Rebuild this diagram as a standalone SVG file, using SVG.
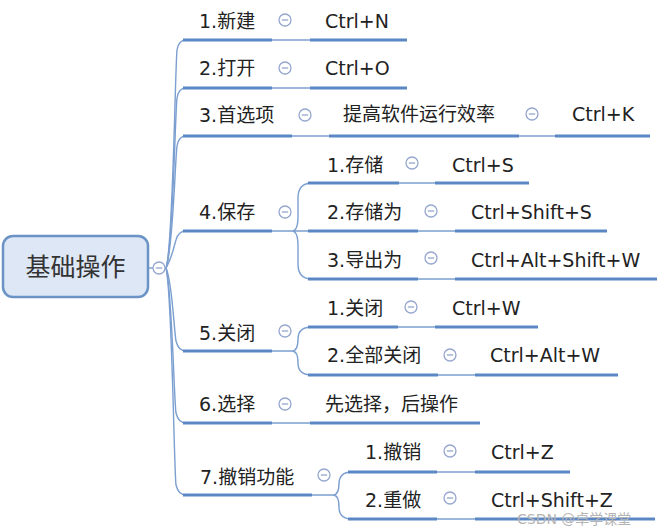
<svg xmlns="http://www.w3.org/2000/svg" width="668" height="532" viewBox="0 0 668 532">
<style>
text{font-family:"DejaVu Sans","Noto Sans CJK SC",sans-serif;font-size:19px;fill:#222}
.root{font-size:25px;fill:#333}
.th{stroke:#5b87c4;stroke-width:3.2;fill:none}
.tn{stroke:#7b9fd0;stroke-width:1.4;fill:none}
.c{fill:#fff;stroke:#95a6cf;stroke-width:1.3}
.m{stroke:#95a6cf;stroke-width:1.3}
.wm{font-size:14px;fill:#b4b4b4}
</style>
<defs>
<g id="col"><circle class="c" r="6"/><line class="m" x1="-3.2" y1="0" x2="3.2" y2="0"/></g>
</defs>
<rect width="668" height="532" fill="#fff"/>
<g id="connectors">
<path class="tn" d="M148 268 L166 268"/>
<path class="tn" d="M166 268 C173 250 175 70 177 50 Q178.5 40 186 40"/>
<path class="tn" d="M166 268 C173 250 175 115 177 98 Q178.5 88 186 88"/>
<path class="tn" d="M166 268 C173 250 175 162 177 146 Q178.5 136 186 136"/>
<path class="tn" d="M166 268 C172 258 174 246 176 240 Q178.5 231 186 231"/>
<path class="tn" d="M166 268 C172 280 174 330 176 341 Q178.5 351 186 351"/>
<path class="tn" d="M166 268 C172 290 174 400 176 413 Q178.5 423 186 423"/>
<path class="tn" d="M166 268 C172 290 174 470 176 485 Q178.5 495 186 495"/>
<path class="th" d="M183 40H272M310 40H407"/><path class="tn" d="M272 40H310"/>
<path class="th" d="M183 88H272M310 88H407"/><path class="tn" d="M272 88H310"/>
<path class="th" d="M183 136H292M329 136H519M555 136H650"/><path class="tn" d="M292 136H329M519 136H555"/>
<path class="th" d="M183 231H272"/>
<path class="tn" d="M272 231H308M292 231Q298 231 298 216L298 198Q298 183 312 183M292 231Q298 231 298 246L298 264Q298 279 312 279"/>
<path class="th" d="M308 183H399M435 183H529"/><path class="tn" d="M399 183H435"/>
<path class="th" d="M308 231H418M455 231H607"/><path class="tn" d="M418 231H455"/>
<path class="th" d="M308 279H418M455 279H657"/><path class="tn" d="M418 279H455"/>
<path class="th" d="M183 351H272"/>
<path class="tn" d="M272 351H292Q298 351 298 339L298 339Q298 327 312 327M292 351Q298 351 298 363L298 363Q298 375 312 375"/>
<path class="th" d="M308 327H398M435 327H538"/><path class="tn" d="M398 327H435"/>
<path class="th" d="M308 375H438M475 375H618"/><path class="tn" d="M438 375H475"/>
<path class="th" d="M183 423H272M310 423H480"/><path class="tn" d="M272 423H310"/>
<path class="th" d="M183 495H312"/>
<path class="tn" d="M312 495H333Q339 495 339 483L339 484Q339 472 352 472M333 495Q339 495 339 507L339 507Q339 519 352 519"/>
<path class="th" d="M348 472H437M475 472H570"/><path class="tn" d="M437 472H475"/>
<path class="th" d="M348 519H437M475 519H655"/><path class="tn" d="M437 519H475"/>
</g>
<g id="root">
<rect x="3" y="236" width="145" height="61" rx="10" fill="#dde7f5" stroke="#6b93c6" stroke-width="2.5"/>
<text class="root" x="75.5" y="276" text-anchor="middle">基础操作</text>
<use href="#col" x="159" y="268"/>
</g>
<g id="n1"><text x="199" y="28">1.新建</text><use href="#col" x="285" y="20"/></g>
<g id="n1a"><text x="325" y="28">Ctrl+N</text></g>
<g id="n2"><text x="199" y="75">2.打开</text><use href="#col" x="285" y="68"/></g>
<g id="n2a"><text x="325" y="75">Ctrl+O</text></g>
<g id="n3"><text x="199" y="122">3.首选项</text><use href="#col" x="305" y="115"/></g>
<g id="n3a"><text x="343" y="121">提高软件运行效率</text><use href="#col" x="532" y="114"/></g>
<g id="n3b"><text x="572" y="121">Ctrl+K</text></g>
<g id="n4"><text x="199" y="219">4.保存</text><use href="#col" x="285" y="212"/></g>
<g id="n41"><text x="327" y="172">1.存储</text><use href="#col" x="412" y="163"/></g>
<g id="n41a"><text x="452" y="172">Ctrl+S</text></g>
<g id="n42"><text x="327" y="219">2.存储为</text><use href="#col" x="431" y="211"/></g>
<g id="n42a"><text x="471" y="219">Ctrl+Shift+S</text></g>
<g id="n43"><text x="327" y="267">3.导出为</text><use href="#col" x="431" y="258"/></g>
<g id="n43a"><text x="471" y="267">Ctrl+Alt+Shift+W</text></g>
<g id="n5"><text x="199" y="340">5.关闭</text><use href="#col" x="285" y="331"/></g>
<g id="n51"><text x="327" y="315">1.关闭</text><use href="#col" x="411" y="307"/></g>
<g id="n51a"><text x="452" y="315">Ctrl+W</text></g>
<g id="n52"><text x="327" y="362">2.全部关闭</text><use href="#col" x="450" y="355"/></g>
<g id="n52a"><text x="490" y="362">Ctrl+Alt+W</text></g>
<g id="n6"><text x="199" y="411">6.选择</text><use href="#col" x="285" y="404"/></g>
<g id="n6a"><text x="325" y="411">先选择，后操作</text></g>
<g id="n7"><text x="200" y="484">7.撤销功能</text><use href="#col" x="324" y="475"/></g>
<g id="n71"><text x="365" y="459">1.撤销</text><use href="#col" x="450" y="451"/></g>
<g id="n71a"><text x="491" y="459">Ctrl+Z</text></g>
<g id="n72"><text x="365" y="507">2.重做</text><use href="#col" x="450" y="498"/></g>
<g id="n72a"><text x="491" y="507">Ctrl+Shift+Z</text></g>
<text class="wm" x="517" y="524">CSDN @卓学课堂</text>
</svg>
